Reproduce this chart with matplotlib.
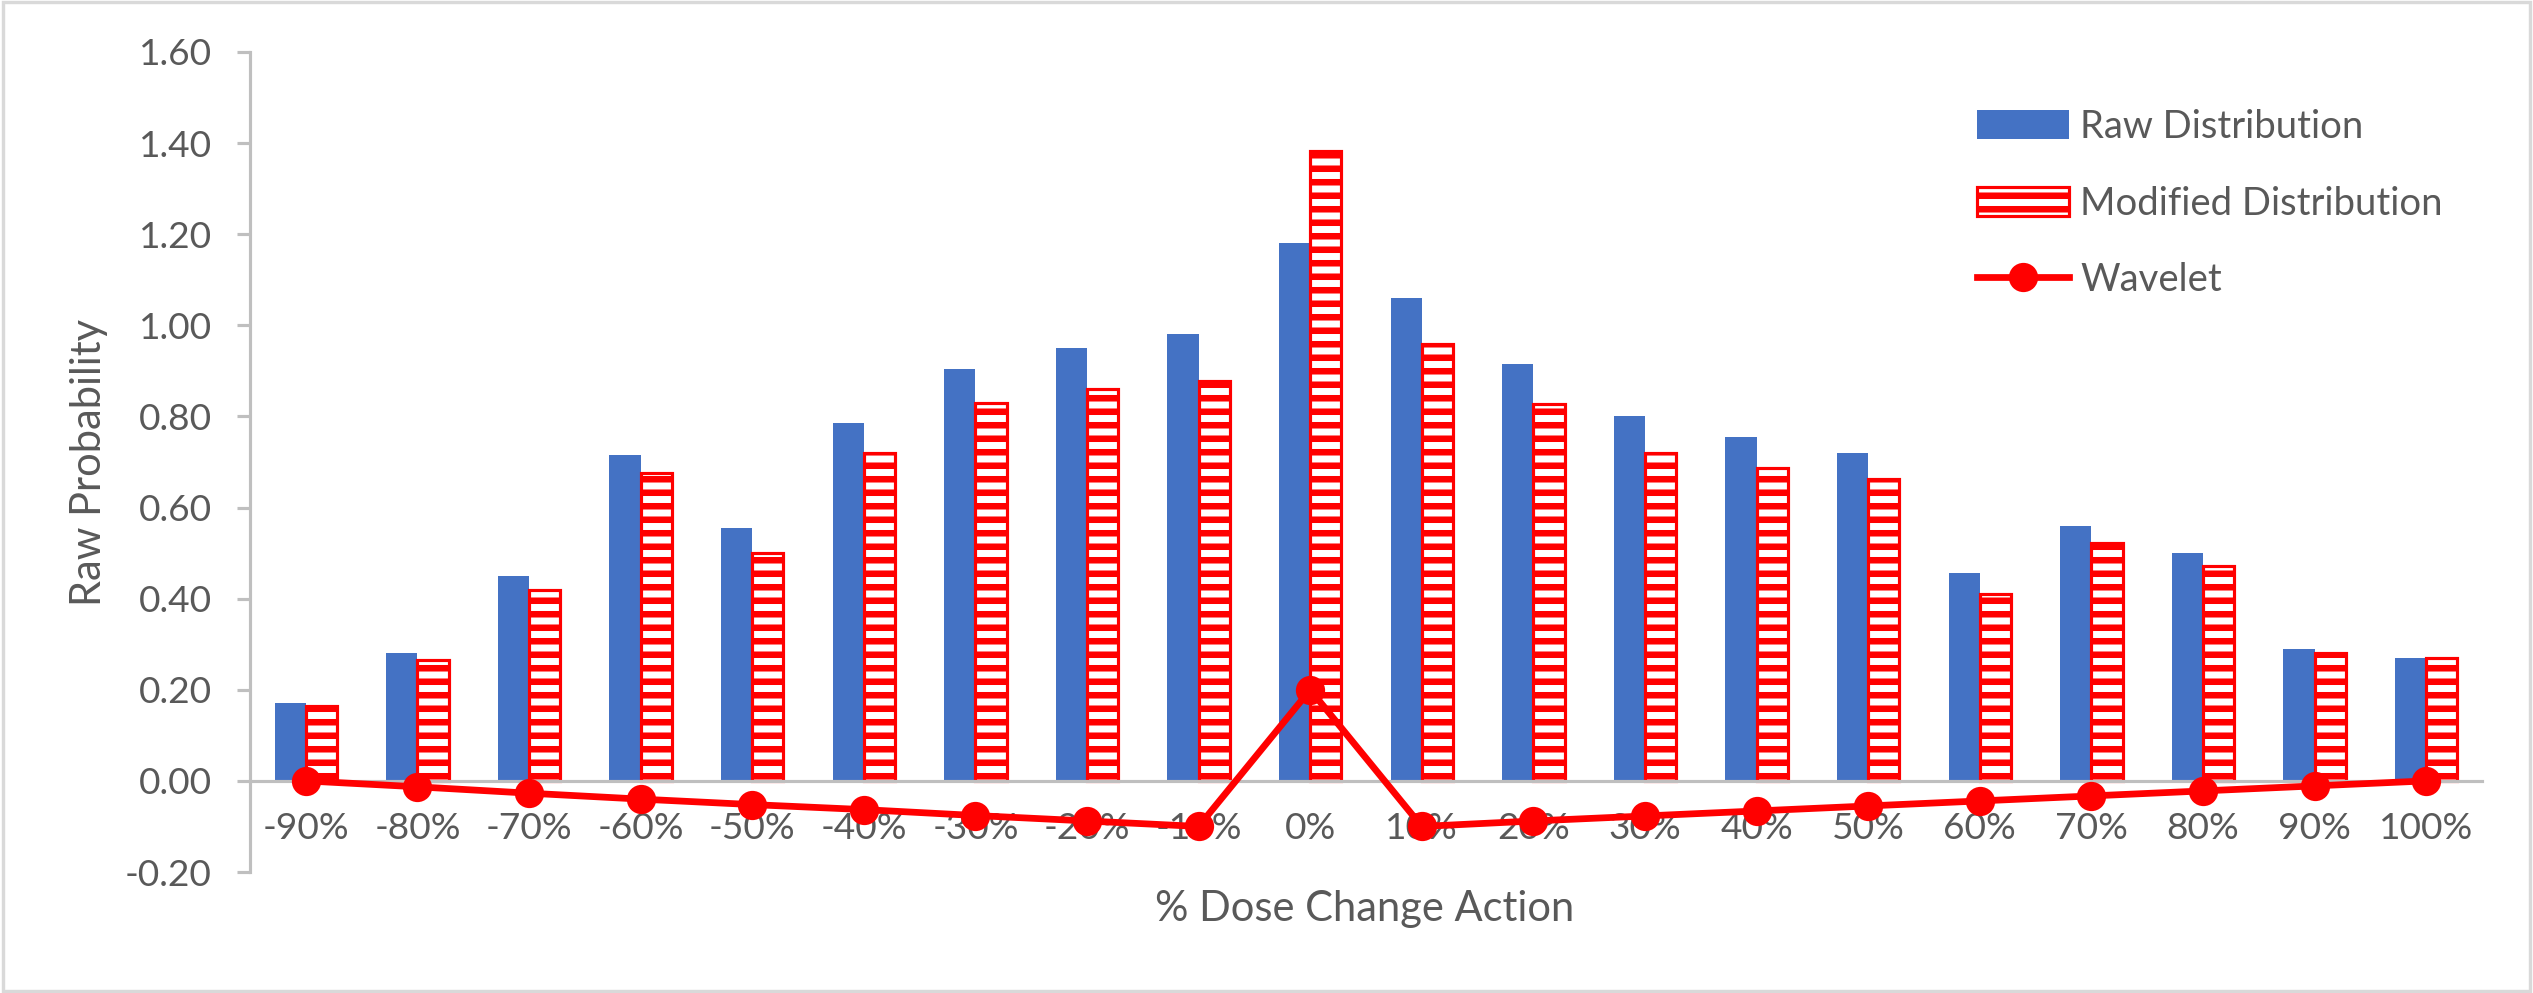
import numpy as np
import matplotlib
matplotlib.use("Agg")
from matplotlib import pyplot as plt
from matplotlib.patches import Rectangle

# chart data
categories = ["-90%", "-80%", "-70%", "-60%", "-50%", "-40%", "-30%", "-20%", "-10%", "0%",
              "10%", "20%", "30%", "40%", "50%", "60%", "70%", "80%", "90%", "100%"]
raw_dist = [0.17, 0.28, 0.45, 0.715, 0.555, 0.785, 0.905, 0.95, 0.98, 1.18,
            1.06, 0.915, 0.80, 0.755, 0.72, 0.457, 0.56, 0.50, 0.29, 0.27]
modified_dist = [0.165, 0.265, 0.42, 0.675, 0.50, 0.72, 0.83, 0.86, 0.877, 1.383,
                 0.96, 0.828, 0.72, 0.687, 0.662, 0.41, 0.523, 0.472, 0.28, 0.27]
wavelet = [0.0, -0.013, -0.027, -0.04, -0.052, -0.063, -0.076, -0.088, -0.10, 0.20,
           -0.10, -0.088, -0.077, -0.066, -0.055, -0.044, -0.033, -0.022, -0.011, 0.0]

DPI = 162
BLUE = "#4472C4"
RED = "#FF0000"
GREY_TXT = "#595959"
GREY_AX = "#BFBFBF"

plt.rcParams['font.family'] = ['Lato', 'DejaVu Sans']
plt.rcParams['hatch.linewidth'] = 2.9

fig = plt.figure(figsize=(2533 / DPI, 993 / DPI), dpi=DPI)
ax = fig.add_axes([250 / 2533, 1 - 872 / 993, 2232 / 2533, 820 / 993])

x = np.arange(len(categories))
w = 0.28

b1 = ax.bar(x - w / 2, raw_dist, w, color=BLUE, label="Raw Distribution", zorder=2)
b2 = ax.bar(x + w / 2, modified_dist, w, facecolor="white", edgecolor=RED, hatch="--",
            linewidth=1.4, label="Modified Distribution", zorder=2)
l1, = ax.plot(x, wavelet, color=RED, linewidth=3.0, marker="o", markersize=12,
              label="Wavelet", zorder=5, clip_on=False)

ax.set_xlim(-0.5, len(categories) - 0.5)
ax.set_ylim(-0.2, 1.6)
ax.set_yticks(np.arange(-0.2, 1.61, 0.2))
ax.set_yticklabels([f"{v:.2f}" for v in np.arange(-0.2, 1.61, 0.2)])
ax.set_xticks(x)
ax.set_xticklabels(categories)

for s in ["top", "right"]:
    ax.spines[s].set_visible(False)
ax.spines["bottom"].set_position(("data", 0))
ax.spines["bottom"].set_color(GREY_AX)
ax.spines["left"].set_color(GREY_AX)
ax.spines["bottom"].set_linewidth(1.4)
ax.spines["left"].set_linewidth(1.4)
ax.spines["bottom"].set_zorder(3)

ax.tick_params(axis="y", colors=GREY_AX, labelcolor=GREY_TXT, labelsize=16.5,
               length=6, width=1.4, pad=11)
ax.tick_params(axis="x", length=0, labelcolor=GREY_TXT, labelsize=16.5, pad=14)

fig.text(89 / 2533, 1 - 462 / 993, "Raw Probability", rotation=90, ha="center",
         va="center", fontsize=18.5, color=GREY_TXT)
fig.text(1365 / 2533, 1 - 909 / 993, "% Dose Change Action", ha="center",
         va="center", fontsize=18.5, color=GREY_TXT)

leg = ax.legend(handles=[b1, b2, l1], loc="upper left",
                bbox_to_anchor=(1977 / 2533, 1 - 109 / 993),
                bbox_transform=fig.transFigure, frameon=False, fontsize=17,
                handlelength=2.4, handleheight=0.8, handletextpad=0.3,
                labelspacing=1.06, borderpad=0, borderaxespad=0)
for t in leg.get_texts():
    t.set_color(GREY_TXT)

# outer chart border
fig.patches.append(Rectangle((0.001, 0.002), 0.998, 0.996, transform=fig.transFigure,
                             fill=False, edgecolor="#D9D9D9", linewidth=1.5))

fig.savefig("out.png", dpi=DPI)
